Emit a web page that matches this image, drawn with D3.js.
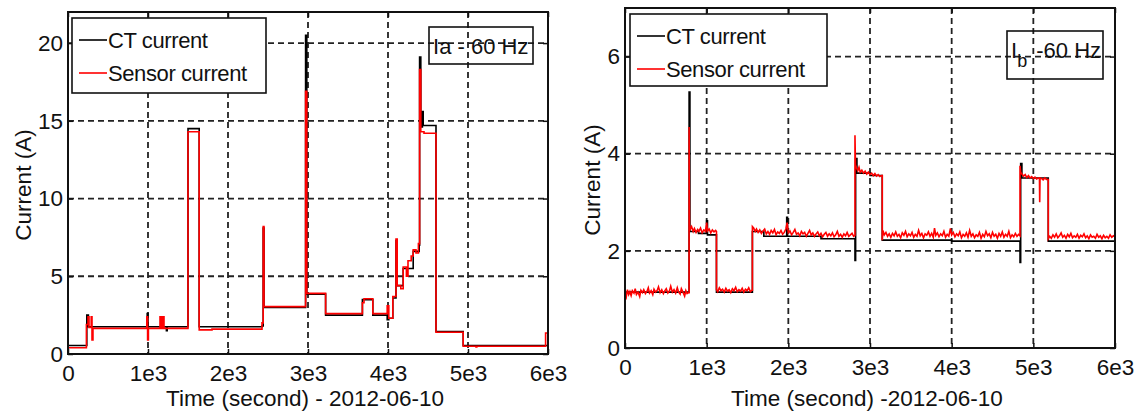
<!DOCTYPE html>
<html>
<head>
<meta charset="utf-8">
<script src="https://cdn.jsdelivr.net/npm/d3@7"></script>
<style>
  body { margin: 0; background: #fff; }
  svg { display: block; }
  text { font-family: "Liberation Sans", Arial, sans-serif; fill: #111; }
</style>
</head>
<body>
<div id="chart"></div>
<script>
// time ticks shared by both panels
const timeTicks = [0, 1000, 2000, 3000, 4000, 5000, 6000];
const timeLabels = ['0', '1e3', '2e3', '3e3', '4e3', '5e3', '6e3'];
const currentTicksA = [0, 5, 10, 15, 20];
const currentTicksB = [0, 2, 4, 6];
const seriesNames = ['CT current', 'Sensor current'];

// phase a: [time (s), current (A)], step changes
const ctA = [[0,0.55],[225,0.55],[235,2.5],[255,1.75],[960,1.75],[990,2.6],[1000,1.75],[1230,1.5],[1240,1.75],
  [1500,14.5],[1640,1.75],[2425,1.8],[2440,8.1],[2450,3.0],[2970,20.5],[2985,3.85],[3220,2.5],[3680,3.5],
  [3810,2.5],[3990,2.2],[4010,2.3],[4060,3.6],[4100,7.3],[4115,4.4],[4190,5.5],[4315,6.6],[4390,7.0],
  [4395,19.1],[4410,14.6],[4430,15.6],[4440,14.7],[4600,1.45],[4940,0.55],[6000,0.55]];
const sensorA = [[0,0.4],[225,0.4],[230,1.9],[250,2.4],[262,1.7],[290,2.4],[300,0.9],[312,1.65],[960,1.65],
  [985,2.4],[995,0.9],[1005,1.65],[1150,2.4],[1165,1.65],[1185,2.4],[1200,1.65],[1500,14.3],[1640,1.55],
  [1800,1.6],[2400,1.6],[2425,2.0],[2440,8.2],[2450,3.05],[2960,3.05],[2970,16.9],[2985,3.9],[3220,2.6],
  [3670,2.6],[3680,3.3],[3700,3.55],[3780,3.55],[3810,2.6],[3960,2.6],[3990,3.1],[4010,2.3],[4060,3.7],
  [4100,7.4],[4115,4.4],[4160,4.2],[4190,5.6],[4230,5.0],[4250,6.0],[4290,6.3],[4315,6.7],[4350,6.5],
  [4380,7.1],[4395,18.3],[4410,14.3],[4450,14.2],[4600,1.4],[4940,0.5],[5100,0.45],[5110,0.5],[5970,1.35],[6000,1.35]];

// phase b
const ctB = [[0,1.15],[785,5.27],[795,2.4],[900,2.36],[1000,2.62],[1010,2.33],[1120,1.15],[1560,2.4],
  [1700,2.3],[1980,2.69],[1990,2.3],[2400,2.25],[2816,1.8],[2824,3.9],[2840,3.6],[3000,3.55],[3150,2.22],
  [3500,2.22],[4000,2.2],[4837,1.76],[4845,3.8],[4860,3.5],[5183,2.2],[6000,2.2]];
// sensor samples, drawn point to point
const sensorB = [[0,1.12],[15,1.05],[30,1.2],[45,1.1],[60,1.16],[75,1.08],[90,1.18],[110,1.13],[125,1.22],
  [140,1.1],[160,1.15],[180,1.06],[195,1.19],[215,1.14],[230,1.2],[250,1.12],[270,1.17],[285,1.24],[300,1.13],
  [320,1.18],[340,1.1],[355,1.21],[375,1.15],[395,1.19],[410,1.26],[430,1.14],[450,1.2],[470,1.12],[485,1.17],
  [505,1.22],[525,1.13],[545,1.18],[560,1.27],[580,1.15],[600,1.2],[620,1.13],[640,1.24],[655,1.16],[675,1.11],
  [690,1.22],[710,1.15],[730,1.07],[745,1.18],[760,1.12],[780,1.14],[785,1.14],[785,4.55],[790,2.52],
  [800,2.45],[815,2.5],[835,2.4],[850,2.46],[870,2.38],[890,2.44],[905,2.4],[925,2.47],[945,2.37],[965,2.43],
  [985,2.4],[1000,2.58],[1010,2.41],[1030,2.45],[1050,2.37],[1070,2.43],[1090,2.39],[1110,2.42],[1120,2.4],
  [1120,1.2],[1135,1.16],[1155,1.24],[1175,1.18],[1195,1.21],[1215,1.15],[1235,1.23],[1255,1.17],[1275,1.2],
  [1295,1.14],[1315,1.22],[1335,1.18],[1355,1.25],[1375,1.16],[1395,1.2],[1415,1.17],[1435,1.23],[1455,1.15],
  [1475,1.21],[1495,1.18],[1515,1.24],[1535,1.16],[1555,1.19],[1560,1.19],[1560,2.5],[1575,2.47],[1595,2.4],
  [1610,2.45],[1630,2.38],[1650,2.43],[1670,2.36],[1690,2.41],[1710,2.45],[1730,2.35],[1750,2.4],[1770,2.34],
  [1790,2.42],[1810,2.37],[1830,2.44],[1850,2.33],[1870,2.39],[1890,2.36],[1910,2.42],[1930,2.34],[1950,2.38],
  [1970,2.45],[1985,2.58],[2000,2.37],[2020,2.41],[2040,2.33],[2060,2.38],[2080,2.44],[2100,2.34],[2120,2.37],
  [2140,2.31],[2160,2.4],[2180,2.35],[2200,2.38],[2220,2.3],[2240,2.36],[2260,2.42],[2280,2.33],[2300,2.37],
  [2320,2.3],[2340,2.35],[2360,2.39],[2380,2.31],[2400,2.36],[2420,2.29],[2440,2.34],[2460,2.38],[2480,2.3],
  [2500,2.35],[2520,2.31],[2540,2.37],[2560,2.29],[2580,2.33],[2600,2.4],[2620,2.3],[2640,2.34],[2660,2.28],
  [2680,2.35],[2700,2.31],[2720,2.38],[2740,2.3],[2760,2.33],[2780,2.36],[2800,2.3],[2816,2.32],[2816,4.38],
  [2822,3.78],[2835,3.7],[2850,3.65],[2865,3.72],[2880,3.62],[2900,3.66],[2920,3.6],[2940,3.64],[2960,3.58],
  [2980,3.62],[3000,3.57],[3020,3.6],[3040,3.55],[3060,3.59],[3080,3.54],[3100,3.57],[3120,3.53],[3140,3.55],
  [3150,3.55],[3150,2.22],[3158,2.42],[3175,2.33],[3195,2.38],[3215,2.3],[3235,2.35],[3255,2.28],[3275,2.36],
  [3295,2.31],[3315,2.39],[3335,2.3],[3355,2.34],[3375,2.27],[3395,2.37],[3415,2.32],[3435,2.4],[3455,2.29],
  [3475,2.35],[3495,2.31],[3515,2.38],[3535,2.28],[3555,2.34],[3575,2.3],[3595,2.42],[3615,2.31],[3635,2.36],
  [3655,2.27],[3675,2.35],[3695,2.32],[3715,2.39],[3735,2.3],[3755,2.36],[3775,2.28],[3790,2.47],[3805,2.32],
  [3825,2.37],[3845,2.29],[3865,2.35],[3885,2.31],[3905,2.4],[3925,2.28],[3945,2.34],[3965,2.3],[3985,2.46],
  [4000,2.33],[4020,2.38],[4040,2.29],[4060,2.35],[4080,2.31],[4100,2.39],[4120,2.27],[4140,2.34],[4160,2.3],
  [4180,2.37],[4200,2.28],[4220,2.42],[4240,2.3],[4260,2.35],[4280,2.27],[4300,2.33],[4320,2.3],[4340,2.38],
  [4360,2.26],[4380,2.34],[4400,2.29],[4420,2.4],[4440,2.31],[4460,2.35],[4480,2.27],[4500,2.38],[4520,2.3],
  [4540,2.34],[4560,2.26],[4580,2.36],[4600,2.3],[4620,2.39],[4640,2.28],[4660,2.34],[4680,2.3],[4700,2.4],
  [4720,2.27],[4740,2.33],[4760,2.29],[4780,2.36],[4800,2.3],[4820,2.34],[4837,2.31],[4837,3.75],[4845,3.62],
  [4860,3.58],[4880,3.54],[4900,3.57],[4920,3.51],[4940,3.55],[4960,3.5],[4980,3.53],[5000,3.49],[5020,3.52],
  [5040,3.48],[5060,3.5],[5075,3.5],[5078,3.0],[5082,3.5],[5100,3.49],[5120,3.46],[5140,3.5],[5160,3.47],
  [5183,3.47],[5183,2.25],[5200,2.3],[5220,2.26],[5240,2.33],[5260,2.28],[5280,2.35],[5300,2.27],[5320,2.31],
  [5340,2.37],[5360,2.28],[5380,2.32],[5400,2.26],[5420,2.34],[5440,2.29],[5460,2.36],[5480,2.27],[5500,2.31],
  [5520,2.28],[5540,2.34],[5560,2.26],[5580,2.32],[5600,2.29],[5620,2.35],[5640,2.27],[5660,2.31],[5680,2.25],
  [5700,2.33],[5720,2.28],[5740,2.3],[5760,2.26],[5780,2.34],[5800,2.28],[5820,2.31],[5840,2.25],[5860,2.32],
  [5880,2.27],[5900,2.3],[5920,2.26],[5940,2.33],[5960,2.28],[5980,2.31],[6000,2.29]];

const svg = d3.select('#chart').append('svg')
  .attr('width', 1140)
  .attr('height', 417);

function drawPanel(p) {
  let x = d3.scaleLinear().domain([0, 6000]).range([p.left, p.right]);
  let y = d3.scaleLinear().domain([0, p.yMax]).range([p.bottom, p.top]);
  let g = svg.append('g');

  // dashed grid
  g.selectAll('.vgrid').data(timeTicks.slice(1, -1)).join('line')
    .attr('x1', d => x(d)).attr('x2', d => x(d))
    .attr('y1', p.top).attr('y2', p.bottom)
    .attr('stroke', '#222').attr('stroke-width', 1.8).attr('stroke-dasharray', '6,4');
  g.selectAll('.hgrid').data(p.yTicks.slice(1)).join('line')
    .attr('x1', p.left).attr('x2', p.right)
    .attr('y1', d => y(d)).attr('y2', d => y(d))
    .attr('stroke', '#222').attr('stroke-width', 1.8).attr('stroke-dasharray', '6,4');

  // axes
  let fmt = d => timeLabels[timeTicks.indexOf(d)];
  g.append('g').attr('transform', `translate(0,${p.bottom})`)
    .call(d3.axisBottom(x).tickValues(timeTicks).tickFormat(fmt).tickSizeInner(-5).tickSizeOuter(0).tickPadding(11));
  g.append('g').attr('transform', `translate(${p.left},0)`)
    .call(d3.axisLeft(y).tickValues(p.yTicks).tickFormat(d3.format('d')).tickSizeInner(-5).tickSizeOuter(0).tickPadding(5));
  g.append('g').attr('transform', `translate(0,${p.top})`)
    .call(d3.axisTop(x).tickValues(timeTicks).tickFormat('').tickSizeInner(-5).tickSizeOuter(0));
  g.append('g').attr('transform', `translate(${p.right},0)`)
    .call(d3.axisRight(y).tickValues(p.yTicks).tickFormat('').tickSizeInner(-5).tickSizeOuter(0));
  g.selectAll('.domain').remove();
  g.selectAll('.tick line').attr('stroke', '#111').attr('stroke-width', 1.5);
  g.selectAll('.tick text').attr('font-size', '22.5px').attr('fill', '#111')
    .attr('font-family', '"Liberation Sans", Arial, sans-serif');

  // data
  let clipId = 'clip' + p.id;
  svg.append('clipPath').attr('id', clipId).append('rect')
    .attr('x', p.left).attr('y', p.top).attr('width', p.right - p.left).attr('height', p.bottom - p.top);
  let stepLine = d3.line().curve(d3.curveStepAfter).x(d => x(d[0])).y(d => y(d[1]));
  let sensorLine = d3.line().curve(p.sensorCurve).x(d => x(d[0])).y(d => y(d[1]));
  g.append('path').attr('clip-path', `url(#${clipId})`)
    .attr('d', stepLine(p.ct)).attr('fill', 'none').attr('stroke', '#000').attr('stroke-width', 1.6);
  g.append('path').attr('clip-path', `url(#${clipId})`)
    .attr('d', sensorLine(p.sensor)).attr('fill', 'none').attr('stroke', '#ff0000').attr('stroke-width', 1.6);

  // box
  g.append('rect')
    .attr('x', p.left).attr('y', p.top).attr('width', p.right - p.left).attr('height', p.bottom - p.top)
    .attr('fill', 'none').attr('stroke', '#111').attr('stroke-width', 2);

  // labels
  g.append('text')
    .attr('transform', `translate(${p.yLabelX},${(p.top + p.bottom) / 2 + 2}) rotate(-90)`)
    .attr('text-anchor', 'middle').attr('font-size', '22.5px')
    .text('Current (A)');
  g.append('text')
    .attr('x', (p.left + p.right) / 2 - 3).attr('y', 406)
    .attr('text-anchor', 'middle').attr('font-size', '22.5px')
    .text(p.xLabel);

  // legend
  let lg = g.append('g').attr('transform', `translate(${p.legend[0]},${p.legend[1]})`);
  lg.append('rect').attr('width', p.legend[2]).attr('height', p.legend[3])
    .attr('fill', '#fff').attr('stroke', '#111').attr('stroke-width', 1.6);
  seriesNames.forEach((name, i) => {
    let ly = 22 + i * 33;
    lg.append('line').attr('x1', 7).attr('x2', 35).attr('y1', ly).attr('y2', ly)
      .attr('stroke', i === 0 ? '#000' : '#ff0000').attr('stroke-width', 1.6);
    lg.append('text').attr('x', 36).attr('y', ly + 8).attr('font-size', '22px')
      .attr('letter-spacing', '-0.4px').text(name);
  });

  // frequency note
  let nb = p.note;
  g.append('rect').attr('x', nb[0]).attr('y', nb[1]).attr('width', nb[2]).attr('height', nb[3])
    .attr('fill', 'none').attr('stroke', '#111').attr('stroke-width', 1.6);
  let t = g.append('text').attr('x', nb[0] + 4).attr('y', nb[1] + 27).attr('font-size', '22px');
  t.append('tspan').text('I');
  if (p.sub) {
    t.append('tspan').attr('dy', 9).attr('font-size', '18px').text(p.phase);
    t.append('tspan').attr('dy', -9).attr('dx', 3).text(' -60 Hz');
  } else {
    t.append('tspan').text(p.phase + ' - 60 Hz');
  }
}

drawPanel({
  id: 'a', left: 68, right: 548, top: 12, bottom: 354, yMax: 22, yTicks: currentTicksA,
  ct: ctA, sensor: sensorA, sensorCurve: d3.curveStepAfter, yLabelX: 31, xLabel: 'Time (second) - 2012-06-10',
  legend: [72, 18, 194, 75], note: [429, 27, 104, 37], phase: 'a', sub: false
});
drawPanel({
  id: 'b', left: 625, right: 1115, top: 8, bottom: 348, yMax: 7, yTicks: currentTicksB,
  ct: ctB, sensor: sensorB, sensorCurve: d3.curveLinear, yLabelX: 600, xLabel: 'Time (second) -2012-06-10',
  legend: [630, 14, 197, 72], note: [1007, 31, 96, 48], phase: 'b', sub: true
});
</script>
</body>
</html>
